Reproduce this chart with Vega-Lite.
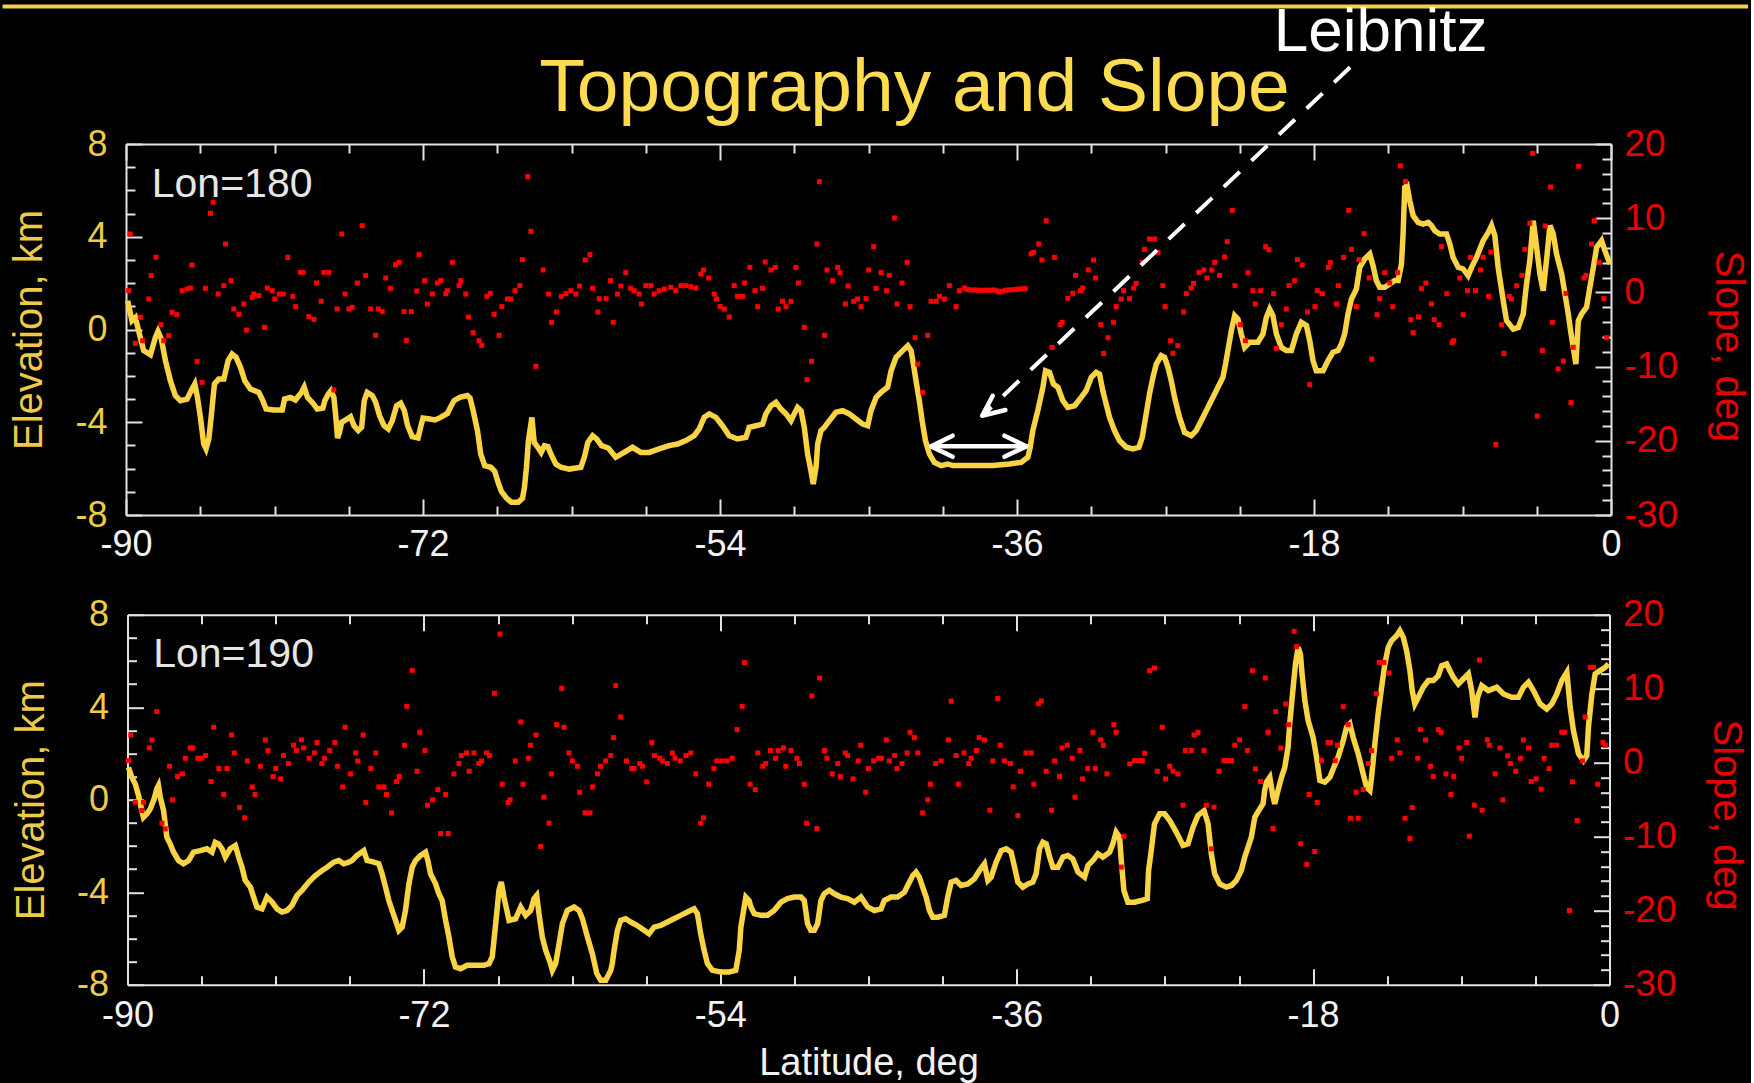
{
  "$schema": "https://vega.github.io/schema/vega-lite/v6.json",
  "background": "#000000",
  "padding": {"left": 0, "top": 0, "right": 0, "bottom": 0},
  "spacing": 99.7,
  "bounds": "flush",
  "center": true,
  "datasets": {
    "top_elev": [
      {"lat":-89.90,"elev":1.24},{"lat":-89.64,"elev":0.38},{"lat":-89.43,"elev":0.52},{"lat":-89.19,"elev":-0.19},{"lat":-88.93,"elev":-0.91},{"lat":-88.52,"elev":-1.09},{"lat":-88.22,"elev":-0.34},{"lat":-88.06,"elev":-0.08},{"lat":-87.86,"elev":-0.41},{"lat":-87.61,"elev":-1.34},{"lat":-87.31,"elev":-2.21},{"lat":-87.01,"elev":-2.85},{"lat":-86.70,"elev":-3.07},{"lat":-86.30,"elev":-3.00},{"lat":-86.00,"elev":-2.57},{"lat":-85.83,"elev":-2.35},{"lat":-85.67,"elev":-2.93},{"lat":-85.49,"elev":-3.79},{"lat":-85.29,"elev":-4.94},{"lat":-85.15,"elev":-5.15},{"lat":-84.98,"elev":-4.72},{"lat":-84.82,"elev":-3.64},{"lat":-84.64,"elev":-2.35},{"lat":-84.38,"elev":-2.14},{"lat":-84.07,"elev":-2.14},{"lat":-83.81,"elev":-1.34},{"lat":-83.57,"elev":-1.06},{"lat":-83.33,"elev":-1.20},{"lat":-83.06,"elev":-1.63},{"lat":-82.80,"elev":-2.21},{"lat":-82.46,"elev":-2.57},{"lat":-81.95,"elev":-2.71},{"lat":-81.71,"elev":-3.07},{"lat":-81.51,"elev":-3.43},{"lat":-81.04,"elev":-3.47},{"lat":-80.53,"elev":-3.47},{"lat":-80.39,"elev":-3.00},{"lat":-80.03,"elev":-2.93},{"lat":-79.73,"elev":-3.04},{"lat":-79.36,"elev":-2.71},{"lat":-79.20,"elev":-2.49},{"lat":-79.00,"elev":-2.93},{"lat":-78.67,"elev":-3.18},{"lat":-78.41,"elev":-3.43},{"lat":-78.07,"elev":-3.39},{"lat":-77.95,"elev":-3.07},{"lat":-77.74,"elev":-2.78},{"lat":-77.58,"elev":-2.64},{"lat":-77.40,"elev":-2.93},{"lat":-77.28,"elev":-3.79},{"lat":-77.18,"elev":-4.68},{"lat":-77.06,"elev":-4.44},{"lat":-76.93,"elev":-4.00},{"lat":-76.59,"elev":-3.86},{"lat":-76.39,"elev":-3.76},{"lat":-76.18,"elev":-4.15},{"lat":-75.92,"elev":-4.36},{"lat":-75.72,"elev":-4.22},{"lat":-75.56,"elev":-3.07},{"lat":-75.38,"elev":-2.71},{"lat":-75.07,"elev":-2.85},{"lat":-74.87,"elev":-3.14},{"lat":-74.63,"elev":-3.72},{"lat":-74.36,"elev":-4.15},{"lat":-74.10,"elev":-4.29},{"lat":-73.86,"elev":-3.93},{"lat":-73.60,"elev":-3.29},{"lat":-73.35,"elev":-3.18},{"lat":-73.13,"elev":-3.50},{"lat":-72.93,"elev":-4.15},{"lat":-72.65,"elev":-4.62},{"lat":-72.30,"elev":-4.68},{"lat":-72.12,"elev":-4.15},{"lat":-72.00,"elev":-3.82},{"lat":-71.59,"elev":-3.86},{"lat":-71.27,"elev":-3.90},{"lat":-70.93,"elev":-3.79},{"lat":-70.52,"elev":-3.62},{"lat":-70.32,"elev":-3.33},{"lat":-70.12,"elev":-3.07},{"lat":-69.77,"elev":-2.93},{"lat":-69.31,"elev":-2.85},{"lat":-69.15,"elev":-2.95},{"lat":-68.96,"elev":-3.50},{"lat":-68.70,"elev":-4.36},{"lat":-68.50,"elev":-5.37},{"lat":-68.26,"elev":-5.87},{"lat":-67.89,"elev":-5.94},{"lat":-67.65,"elev":-6.12},{"lat":-67.45,"elev":-6.59},{"lat":-67.25,"elev":-6.98},{"lat":-66.94,"elev":-7.27},{"lat":-66.64,"elev":-7.45},{"lat":-66.23,"elev":-7.45},{"lat":-65.97,"elev":-7.28},{"lat":-65.85,"elev":-6.81},{"lat":-65.73,"elev":-5.94},{"lat":-65.61,"elev":-4.79},{"lat":-65.40,"elev":-3.79},{"lat":-65.26,"elev":-4.87},{"lat":-65.04,"elev":-5.08},{"lat":-64.84,"elev":-5.30},{"lat":-64.64,"elev":-5.01},{"lat":-64.43,"elev":-5.05},{"lat":-64.23,"elev":-5.40},{"lat":-63.95,"elev":-5.80},{"lat":-63.64,"elev":-5.94},{"lat":-63.14,"elev":-6.02},{"lat":-62.43,"elev":-5.94},{"lat":-62.21,"elev":-5.48},{"lat":-62.01,"elev":-4.87},{"lat":-61.72,"elev":-4.58},{"lat":-61.48,"elev":-4.72},{"lat":-61.18,"elev":-5.01},{"lat":-60.77,"elev":-5.11},
      {"lat":-60.32,"elev":-5.51},{"lat":-59.81,"elev":-5.30},{"lat":-59.30,"elev":-5.08},{"lat":-58.80,"elev":-5.30},{"lat":-58.29,"elev":-5.30},{"lat":-57.69,"elev":-5.15},{"lat":-57.08,"elev":-5.01},{"lat":-56.57,"elev":-4.94},{"lat":-56.07,"elev":-4.79},{"lat":-55.56,"elev":-4.58},{"lat":-55.26,"elev":-4.29},{"lat":-54.96,"elev":-3.79},{"lat":-54.65,"elev":-3.64},{"lat":-54.25,"elev":-3.79},{"lat":-53.85,"elev":-4.15},{"lat":-53.44,"elev":-4.58},{"lat":-52.94,"elev":-4.72},{"lat":-52.43,"elev":-4.65},{"lat":-52.23,"elev":-4.22},{"lat":-51.82,"elev":-4.15},{"lat":-51.42,"elev":-4.08},{"lat":-51.22,"elev":-3.64},{"lat":-50.91,"elev":-3.29},{"lat":-50.61,"elev":-3.14},{"lat":-50.31,"elev":-3.43},{"lat":-50.00,"elev":-3.64},{"lat":-49.70,"elev":-3.93},{"lat":-49.50,"elev":-3.64},{"lat":-49.30,"elev":-3.36},{"lat":-49.09,"elev":-3.50},{"lat":-48.89,"elev":-4.22},{"lat":-48.69,"elev":-5.37},{"lat":-48.49,"elev":-6.09},{"lat":-48.35,"elev":-6.66},{"lat":-48.18,"elev":-5.94},{"lat":-48.08,"elev":-4.94},{"lat":-47.88,"elev":-4.36},{"lat":-47.68,"elev":-4.22},{"lat":-47.37,"elev":-3.93},{"lat":-46.97,"elev":-3.57},{"lat":-46.57,"elev":-3.50},{"lat":-46.16,"elev":-3.64},{"lat":-45.76,"elev":-3.86},{"lat":-45.35,"elev":-4.08},{"lat":-45.05,"elev":-4.15},{"lat":-44.85,"elev":-3.50},{"lat":-44.54,"elev":-2.93},{"lat":-44.24,"elev":-2.71},{"lat":-43.84,"elev":-2.49},{"lat":-43.63,"elev":-1.78},{"lat":-43.33,"elev":-1.20},{"lat":-42.93,"elev":-0.91},{"lat":-42.62,"elev":-0.70},{"lat":-42.42,"elev":-0.91},{"lat":-42.28,"elev":-1.49},{"lat":-42.12,"elev":-2.21},{"lat":-41.92,"elev":-3.07},{"lat":-41.75,"elev":-3.93},{"lat":-41.55,"elev":-4.79},{"lat":-41.31,"elev":-5.37},{"lat":-41.01,"elev":-5.73},{"lat":-40.60,"elev":-5.87},{"lat":-40.20,"elev":-5.80},{"lat":-39.89,"elev":-5.87},{"lat":-39.59,"elev":-5.87},{"lat":-38.48,"elev":-5.87},{"lat":-37.47,"elev":-5.87},{"lat":-36.46,"elev":-5.80},{"lat":-35.75,"elev":-5.73},{"lat":-35.34,"elev":-5.51},{"lat":-35.20,"elev":-5.08},{"lat":-35.04,"elev":-4.36},{"lat":-34.74,"elev":-3.50},{"lat":-34.43,"elev":-2.49},{"lat":-34.27,"elev":-1.78},{"lat":-34.03,"elev":-1.85},{"lat":-33.79,"elev":-2.35},{"lat":-33.52,"elev":-2.49},{"lat":-33.22,"elev":-3.07},{"lat":-32.92,"elev":-3.36},{"lat":-32.51,"elev":-3.29},{"lat":-32.11,"elev":-2.93},{"lat":-31.81,"elev":-2.64},{"lat":-31.50,"elev":-2.06},{"lat":-31.20,"elev":-1.85},
      {"lat":-31.00,"elev":-1.92},{"lat":-30.80,"elev":-2.64},{"lat":-30.60,"elev":-3.21},{"lat":-30.39,"elev":-3.79},{"lat":-30.09,"elev":-4.36},{"lat":-29.79,"elev":-4.79},{"lat":-29.38,"elev":-5.08},{"lat":-28.98,"elev":-5.15},{"lat":-28.61,"elev":-5.08},{"lat":-28.41,"elev":-4.65},{"lat":-28.17,"elev":-3.64},{"lat":-27.97,"elev":-2.78},{"lat":-27.76,"elev":-2.06},{"lat":-27.56,"elev":-1.49},{"lat":-27.26,"elev":-1.13},{"lat":-27.06,"elev":-1.20},{"lat":-26.85,"elev":-1.63},{"lat":-26.65,"elev":-2.21},{"lat":-26.45,"elev":-2.93},{"lat":-26.15,"elev":-3.79},{"lat":-25.84,"elev":-4.44},{"lat":-25.44,"elev":-4.58},{"lat":-25.14,"elev":-4.36},{"lat":-24.83,"elev":-3.93},{"lat":-24.53,"elev":-3.50},{"lat":-24.13,"elev":-2.93},{"lat":-23.82,"elev":-2.49},{"lat":-23.52,"elev":-2.06},{"lat":-23.36,"elev":-1.49},{"lat":-23.22,"elev":-0.91},{"lat":-23.01,"elev":-0.05},{"lat":-22.81,"elev":0.60},{"lat":-22.61,"elev":0.45},{"lat":-22.41,"elev":-0.19},{"lat":-22.20,"elev":-0.77},{"lat":-21.90,"elev":-0.55},{"lat":-21.40,"elev":-0.55},{"lat":-21.09,"elev":-0.19},{"lat":-20.89,"elev":0.52},{"lat":-20.69,"elev":0.88},{"lat":-20.49,"elev":0.60},{"lat":-20.28,"elev":-0.19},{"lat":-19.98,"elev":-0.77},{"lat":-19.68,"elev":-0.91},{"lat":-19.37,"elev":-0.91},{"lat":-19.07,"elev":-0.19},{"lat":-18.77,"elev":0.31},{"lat":-18.46,"elev":0.17},{"lat":-18.26,"elev":-0.48},{"lat":-18.06,"elev":-1.34},{"lat":-17.86,"elev":-1.78},{"lat":-17.45,"elev":-1.78},{"lat":-17.15,"elev":-1.34},{"lat":-16.85,"elev":-0.98},{"lat":-16.54,"elev":-0.91},{"lat":-16.34,"elev":-0.63},{"lat":-16.14,"elev":-0.19},{"lat":-15.94,"elev":0.67},{"lat":-15.73,"elev":1.32},{"lat":-15.53,"elev":1.60},{"lat":-15.43,"elev":1.75},{"lat":-15.23,"elev":2.68},{"lat":-14.93,"elev":3.04},{"lat":-14.62,"elev":3.26},{"lat":-14.42,"elev":2.75},{"lat":-14.22,"elev":2.11},{"lat":-14.02,"elev":1.82},{"lat":-13.71,"elev":1.82},{"lat":-13.41,"elev":1.96},{"lat":-13.11,"elev":2.11},{"lat":-12.90,"elev":2.11},{"lat":-12.70,"elev":2.82},{"lat":-12.60,"elev":4.12},{"lat":-12.50,"elev":6.13},{"lat":-12.36,"elev":6.20},{"lat":-12.20,"elev":5.56},{"lat":-11.99,"elev":4.91},{"lat":-11.69,"elev":4.62},{"lat":-11.39,"elev":4.55},{"lat":-11.08,"elev":4.62},{"lat":-10.88,"elev":4.48},{"lat":-10.68,"elev":4.26},{"lat":-10.38,"elev":4.12},{"lat":-9.97,"elev":4.12},{"lat":-9.77,"elev":3.69},{"lat":-9.57,"elev":3.11},{"lat":-9.26,"elev":2.68},{"lat":-8.96,"elev":2.61},{"lat":-8.66,"elev":2.32},{"lat":-8.45,"elev":2.68},{"lat":-8.15,"elev":3.11},{"lat":-7.75,"elev":3.83},{"lat":-7.44,"elev":4.19},{"lat":-7.24,"elev":4.48},{"lat":-7.04,"elev":4.05},{"lat":-6.84,"elev":2.68},{"lat":-6.53,"elev":1.24},{"lat":-6.33,"elev":0.38},{"lat":-5.93,"elev":0.02},{"lat":-5.62,"elev":0.09},{"lat":-5.32,"elev":0.67},{"lat":-5.12,"elev":1.96},{"lat":-4.92,"elev":2.97},{"lat":-4.71,"elev":4.69},{"lat":-4.51,"elev":3.54},{"lat":-4.31,"elev":2.39},{"lat":-4.11,"elev":1.67},{"lat":-3.91,"elev":2.97},{"lat":-3.70,"elev":4.48},{"lat":-3.50,"elev":4.12},{"lat":-3.30,"elev":3.26},{"lat":-2.99,"elev":2.39},{"lat":-2.79,"elev":1.53},{"lat":-2.59,"elev":0.67},{"lat":-2.45,"elev":-0.05},{"lat":-2.29,"elev":-0.77},{"lat":-2.13,"elev":-1.49},{"lat":-1.98,"elev":0.38},{"lat":-1.78,"elev":0.67},{"lat":-1.48,"elev":0.96},{"lat":-1.28,"elev":1.82},{"lat":-1.07,"elev":2.68},{"lat":-0.87,"elev":3.54},{"lat":-0.57,"elev":3.83},{"lat":-0.37,"elev":3.40},{"lat":-0.06,"elev":2.82}
    ],
    "top_slope": [
      {"lat":-89.84,"slope":0.23},{"lat":-89.74,"slope":7.87},{"lat":-89.43,"slope":-6.86},{"lat":-89.13,"slope":-3.36},{"lat":-88.99,"slope":-6.51},{"lat":-88.62,"slope":-0.89},{"lat":-88.48,"slope":2.26},{"lat":-88.18,"slope":4.73},{"lat":-87.88,"slope":-4.35},{"lat":-87.71,"slope":-6.51},{"lat":-87.41,"slope":-5.83},{"lat":-87.21,"slope":-2.69},{"lat":-86.91,"slope":-3.00},{"lat":-86.60,"slope":0.23},{"lat":-86.30,"slope":0.46},{"lat":-86.10,"slope":0.59},{"lat":-86.00,"slope":3.69},{"lat":-85.69,"slope":-9.29},{"lat":-85.39,"slope":-12.12},{"lat":-85.19,"slope":0.55},{"lat":-84.88,"slope":10.66},{"lat":-84.72,"slope":12.14},{"lat":-84.42,"slope":-0.22},{"lat":-84.07,"slope":0.91},{"lat":-83.97,"slope":6.52},{"lat":-83.63,"slope":1.58},{"lat":-83.47,"slope":-2.24},{"lat":-83.16,"slope":-2.96},{"lat":-82.86,"slope":-1.56},{"lat":-82.70,"slope":-5.07},{"lat":-82.35,"slope":-0.66},{"lat":-82.25,"slope":-0.22},{"lat":-81.95,"slope":-0.44},{"lat":-81.61,"slope":-4.71},{"lat":-81.44,"slope":0.59},{"lat":-81.14,"slope":0.23},{"lat":-80.98,"slope":-0.89},{"lat":-80.70,"slope":-0.22},{"lat":-80.47,"slope":-0.22},{"lat":-80.19,"slope":4.73},{"lat":-79.89,"slope":-0.53},{"lat":-79.72,"slope":-1.92},{"lat":-79.42,"slope":2.70},{"lat":-79.26,"slope":2.70},{"lat":-78.92,"slope":-3.27},{"lat":-78.61,"slope":-3.63},{"lat":-78.45,"slope":1.27},{"lat":-78.17,"slope":-1.20},{"lat":-78.01,"slope":2.70},{"lat":-77.70,"slope":2.70},{"lat":-77.40,"slope":-13.15},{"lat":-77.20,"slope":-2.24},{"lat":-76.93,"slope":7.87},{"lat":-76.73,"slope":-0.22},{"lat":-76.49,"slope":-2.24},{"lat":-76.29,"slope":-2.01},{"lat":-75.98,"slope":1.27},{"lat":-75.68,"slope":8.99},{"lat":-75.48,"slope":2.26},{"lat":-75.17,"slope":-2.24},{"lat":-74.87,"slope":-5.79},{"lat":-74.71,"slope":-2.24},{"lat":-74.47,"slope":-2.60},{"lat":-74.26,"slope":1.94},{"lat":-73.96,"slope":0.55},{"lat":-73.66,"slope":3.74},{"lat":-73.45,"slope":4.05},{"lat":-73.15,"slope":-2.60},{"lat":-73.01,"slope":-6.46},{"lat":-72.71,"slope":-2.60},{"lat":-72.38,"slope":0.19},{"lat":-72.24,"slope":5.09},{"lat":-71.90,"slope":1.58},{"lat":-71.74,"slope":-1.56},{"lat":-71.43,"slope":-0.22},{"lat":-71.13,"slope":1.27},{"lat":-70.93,"slope":1.58},{"lat":-70.62,"slope":-0.17},{"lat":-70.52,"slope":0.23},{"lat":-70.22,"slope":4.05},{"lat":-69.81,"slope":0.91},{"lat":-69.71,"slope":1.58},{"lat":-69.41,"slope":-0.22},{"lat":-69.25,"slope":-3.32},{"lat":-68.96,"slope":-5.43},{"lat":-68.60,"slope":-6.51},{"lat":-68.44,"slope":-7.13},{"lat":-68.13,"slope":-0.53},{"lat":-67.93,"slope":-0.13},{"lat":-67.69,"slope":-2.96},{"lat":-67.39,"slope":-5.79},{"lat":-67.22,"slope":-1.92},{"lat":-66.88,"slope":-0.89},{"lat":-66.68,"slope":-0.89},{"lat":-66.42,"slope":0.23},{"lat":-66.13,"slope":0.91},{"lat":-65.97,"slope":4.41},{"lat":-65.65,"slope":15.60},{"lat":-65.46,"slope":8.23},{"lat":-65.16,"slope":-9.96},{"lat":-64.72,"slope":3.02},{"lat":-64.39,"slope":-0.22},{"lat":-64.21,"slope":-4.03},{"lat":-63.91,"slope":-2.64},{"lat":-63.62,"slope":-0.53},{"lat":-63.34,"slope":-0.17},{"lat":-63.04,"slope":0.23},{"lat":-62.73,"slope":-0.22},{"lat":-62.51,"slope":0.86},{"lat":-62.17,"slope":4.37},{"lat":-61.88,"slope":5.09},{"lat":-61.72,"slope":0.55},{"lat":-61.40,"slope":-2.64},{"lat":-61.32,"slope":-0.84},{"lat":-60.91,"slope":-0.84},{"lat":-60.63,"slope":1.58},{"lat":-60.47,"slope":-4.03},{"lat":-60.21,"slope":-0.22},
      {"lat":-60.01,"slope":0.86},{"lat":-59.71,"slope":2.66},{"lat":-59.41,"slope":0.55},{"lat":-59.20,"slope":0.23},{"lat":-58.90,"slope":-0.22},{"lat":-58.76,"slope":-1.56},{"lat":-58.50,"slope":0.91},{"lat":-58.19,"slope":0.91},{"lat":-57.99,"slope":-0.22},{"lat":-57.69,"slope":0.23},{"lat":-57.38,"slope":0.46},{"lat":-56.98,"slope":0.68},{"lat":-56.68,"slope":0.23},{"lat":-56.37,"slope":0.91},{"lat":-56.07,"slope":0.91},{"lat":-55.77,"slope":0.77},{"lat":-55.46,"slope":0.59},{"lat":-55.16,"slope":2.48},{"lat":-55.00,"slope":3.02},{"lat":-54.69,"slope":1.94},{"lat":-54.35,"slope":-0.22},{"lat":-54.21,"slope":-0.89},{"lat":-53.99,"slope":-1.88},{"lat":-53.74,"slope":-2.24},{"lat":-53.44,"slope":-3.32},{"lat":-53.14,"slope":0.91},{"lat":-52.94,"slope":-0.53},{"lat":-52.63,"slope":-0.53},{"lat":-52.51,"slope":1.27},{"lat":-52.19,"slope":3.38},{"lat":-51.88,"slope":0.23},{"lat":-51.72,"slope":-1.92},{"lat":-51.42,"slope":0.55},{"lat":-51.26,"slope":4.10},{"lat":-50.91,"slope":3.02},{"lat":-50.65,"slope":3.38},{"lat":-50.47,"slope":-2.24},{"lat":-50.21,"slope":-1.20},{"lat":-50.00,"slope":-1.92},{"lat":-49.70,"slope":-1.20},{"lat":-49.40,"slope":3.38},{"lat":-49.24,"slope":1.27},{"lat":-48.89,"slope":-4.71},{"lat":-48.73,"slope":-11.76},{"lat":-48.45,"slope":-9.29},{"lat":-48.12,"slope":6.52},{"lat":-47.98,"slope":14.92},{"lat":-47.66,"slope":-5.79},{"lat":-47.52,"slope":3.02},{"lat":-47.17,"slope":1.58},{"lat":-46.87,"slope":3.38},{"lat":-46.73,"slope":2.66},{"lat":-46.40,"slope":-1.56},{"lat":-46.24,"slope":0.86},{"lat":-45.90,"slope":-1.20},{"lat":-45.66,"slope":-0.89},{"lat":-45.45,"slope":-1.92},{"lat":-45.15,"slope":-0.84},{"lat":-44.99,"slope":3.02},{"lat":-44.69,"slope":6.16},{"lat":-44.54,"slope":0.55},{"lat":-44.24,"slope":2.66},{"lat":-43.90,"slope":0.23},{"lat":-43.74,"slope":2.30},{"lat":-43.43,"slope":10.03},{"lat":-43.27,"slope":-1.56},{"lat":-42.97,"slope":1.27},{"lat":-42.66,"slope":4.05},{"lat":-42.48,"slope":-1.92},{"lat":-42.18,"slope":-6.10},{"lat":-42.02,"slope":-9.65},{"lat":-41.71,"slope":-13.47},{"lat":-41.41,"slope":-5.79},{"lat":-41.21,"slope":-1.20},{"lat":-40.90,"slope":-1.20},{"lat":-40.70,"slope":-0.53},{"lat":-40.40,"slope":-0.89},{"lat":-40.10,"slope":0.91},{"lat":-39.69,"slope":-1.92},{"lat":-39.49,"slope":0.23},{"lat":-39.19,"slope":0.59},{"lat":-39.00,"slope":0.40},{"lat":-38.80,"slope":0.32},{"lat":-38.60,"slope":0.32},{"lat":-38.40,"slope":0.30},{"lat":-38.20,"slope":0.28},{"lat":-38.00,"slope":0.28},{"lat":-37.80,"slope":0.30},{"lat":-37.60,"slope":0.30},{"lat":-37.40,"slope":0.32},{"lat":-37.20,"slope":0.20},{"lat":-37.06,"slope":0.05},{"lat":-36.90,"slope":0.15},{"lat":-36.70,"slope":0.28},{"lat":-36.50,"slope":0.32},{"lat":-36.30,"slope":0.35},{"lat":-36.10,"slope":0.40},{"lat":-35.90,"slope":0.45},{"lat":-35.70,"slope":0.48},{"lat":-35.50,"slope":0.50},{"lat":-35.14,"slope":5.18},{"lat":-35.00,"slope":5.40},{"lat":-34.68,"slope":6.52},{"lat":-34.49,"slope":4.37},{"lat":-34.23,"slope":9.67},{"lat":-33.87,"slope":-7.40},{"lat":-33.73,"slope":4.73},{"lat":-33.38,"slope":-4.35},{"lat":-33.26,"slope":-4.03},{"lat":-32.92,"slope":-0.80},{"lat":-32.62,"slope":-0.13},{"lat":-32.45,"slope":2.30},{"lat":-32.15,"slope":0.23},{"lat":-32.01,"slope":0.59},{"lat":-31.68,"slope":3.02},{"lat":-31.36,"slope":4.37},{"lat":-31.24,"slope":1.94},{"lat":-30.92,"slope":-4.35},{"lat":-30.75,"slope":-8.21},{"lat":-30.49,"slope":-6.10},
      {"lat":-30.15,"slope":-4.03},{"lat":-29.99,"slope":-1.92},{"lat":-29.69,"slope":-0.89},{"lat":-29.54,"slope":0.23},{"lat":-29.18,"slope":-0.84},{"lat":-28.92,"slope":0.59},{"lat":-28.78,"slope":1.22},{"lat":-28.41,"slope":4.05},{"lat":-28.27,"slope":5.80},{"lat":-27.97,"slope":7.20},{"lat":-27.66,"slope":7.20},{"lat":-27.46,"slope":5.40},{"lat":-27.16,"slope":0.91},{"lat":-27.02,"slope":-1.92},{"lat":-26.69,"slope":-6.51},{"lat":-26.55,"slope":-8.21},{"lat":-26.25,"slope":-7.18},{"lat":-25.90,"slope":-2.64},{"lat":-25.74,"slope":-0.17},{"lat":-25.44,"slope":0.59},{"lat":-25.30,"slope":1.22},{"lat":-24.97,"slope":2.70},{"lat":-24.67,"slope":3.02},{"lat":-24.49,"slope":1.94},{"lat":-24.19,"slope":3.02},{"lat":-24.02,"slope":4.05},{"lat":-23.72,"slope":2.30},{"lat":-23.42,"slope":4.77},{"lat":-23.26,"slope":6.84},{"lat":-22.95,"slope":11.06},{"lat":-22.79,"slope":0.91},{"lat":-22.47,"slope":-4.35},{"lat":-22.16,"slope":-6.51},{"lat":-22.00,"slope":2.66},{"lat":-21.70,"slope":0.23},{"lat":-21.56,"slope":-1.56},{"lat":-21.23,"slope":0.23},{"lat":-20.93,"slope":6.16},{"lat":-20.73,"slope":5.76},{"lat":-20.45,"slope":-0.17},{"lat":-20.28,"slope":-7.54},{"lat":-19.98,"slope":-4.35},{"lat":-19.68,"slope":-2.24},{"lat":-19.51,"slope":0.91},{"lat":-19.17,"slope":1.58},{"lat":-19.01,"slope":4.41},{"lat":-18.71,"slope":3.69},{"lat":-18.40,"slope":-2.64},{"lat":-18.26,"slope":-12.43},{"lat":-17.94,"slope":-1.92},{"lat":-17.80,"slope":0.23},{"lat":-17.49,"slope":-0.17},{"lat":-17.13,"slope":3.38},{"lat":-17.01,"slope":4.05},{"lat":-16.64,"slope":-1.56},{"lat":-16.52,"slope":0.91},{"lat":-16.20,"slope":4.73},{"lat":-15.90,"slope":11.06},{"lat":-15.73,"slope":5.80},{"lat":-15.43,"slope":-1.92},{"lat":-15.27,"slope":4.41},{"lat":-14.97,"slope":7.92},{"lat":-14.66,"slope":1.94},{"lat":-14.50,"slope":-8.98},{"lat":-14.18,"slope":-3.00},{"lat":-14.02,"slope":-0.84},{"lat":-13.71,"slope":2.66},{"lat":-13.41,"slope":1.27},{"lat":-13.23,"slope":-1.92},{"lat":-12.94,"slope":2.66},{"lat":-12.76,"slope":17.04},{"lat":-12.46,"slope":14.97},{"lat":-12.13,"slope":-3.67},{"lat":-11.99,"slope":-5.43},{"lat":-11.67,"slope":-3.32},{"lat":-11.49,"slope":0.50},{"lat":-11.22,"slope":1.27},{"lat":-10.88,"slope":-1.56},{"lat":-10.72,"slope":-3.67},{"lat":-10.42,"slope":-4.35},{"lat":-10.27,"slope":6.16},{"lat":-9.95,"slope":-0.17},{"lat":-9.63,"slope":-6.77},{"lat":-9.53,"slope":-6.51},{"lat":-9.16,"slope":1.94},{"lat":-8.96,"slope":-3.00},{"lat":-8.70,"slope":0.23},{"lat":-8.52,"slope":4.73},{"lat":-8.21,"slope":0.23},{"lat":-7.91,"slope":3.02},{"lat":-7.75,"slope":4.73},{"lat":-7.42,"slope":-0.53},{"lat":-7.28,"slope":5.44},{"lat":-6.98,"slope":-20.48},{"lat":-6.63,"slope":-4.35},{"lat":-6.49,"slope":-8.21},{"lat":-6.17,"slope":-0.53},{"lat":-6.03,"slope":-0.89},{"lat":-5.72,"slope":0.91},{"lat":-5.40,"slope":2.30},{"lat":-5.22,"slope":5.80},{"lat":-4.92,"slope":9.31},{"lat":-4.75,"slope":18.74},{"lat":-4.47,"slope":-16.66},{"lat":-4.15,"slope":-7.85},{"lat":-3.99,"slope":8.95},{"lat":-3.66,"slope":14.20},{"lat":-3.54,"slope":-4.03},{"lat":-3.20,"slope":-10.32},{"lat":-2.89,"slope":-9.25},{"lat":-2.73,"slope":-0.13},{"lat":-2.43,"slope":-14.86},{"lat":-2.29,"slope":-7.40},{"lat":-1.96,"slope":16.99},{"lat":-1.64,"slope":1.94},{"lat":-1.52,"slope":2.30},{"lat":-1.18,"slope":6.52},{"lat":-1.01,"slope":9.67},{"lat":-0.71,"slope":4.05},{"lat":-0.43,"slope":-0.84},{"lat":-0.26,"slope":-6.10}
    ],
    "bot_elev": [
      {"lat":-89.94,"elev":1.40},{"lat":-89.74,"elev":0.97},{"lat":-89.53,"elev":0.68},{"lat":-89.33,"elev":0.18},{"lat":-89.13,"elev":-0.47},{"lat":-89.03,"elev":-0.76},{"lat":-88.82,"elev":-0.61},{"lat":-88.62,"elev":-0.40},{"lat":-88.38,"elev":0.04},{"lat":-88.22,"elev":0.47},{"lat":-88.12,"elev":0.61},{"lat":-88.01,"elev":0.11},{"lat":-87.81,"elev":-0.47},{"lat":-87.71,"elev":-1.04},{"lat":-87.61,"elev":-1.62},{"lat":-87.41,"elev":-1.91},{"lat":-87.20,"elev":-2.27},{"lat":-86.90,"elev":-2.63},{"lat":-86.60,"elev":-2.77},{"lat":-86.29,"elev":-2.63},{"lat":-85.99,"elev":-2.27},{"lat":-85.58,"elev":-2.20},{"lat":-85.18,"elev":-2.12},{"lat":-84.87,"elev":-2.27},{"lat":-84.67,"elev":-1.84},{"lat":-84.47,"elev":-1.91},{"lat":-84.26,"elev":-2.12},{"lat":-84.06,"elev":-2.48},{"lat":-83.76,"elev":-2.12},{"lat":-83.45,"elev":-1.98},{"lat":-83.25,"elev":-2.48},{"lat":-83.05,"elev":-2.92},{"lat":-82.85,"elev":-3.49},{"lat":-82.54,"elev":-3.78},{"lat":-82.34,"elev":-4.21},{"lat":-82.14,"elev":-4.64},{"lat":-81.83,"elev":-4.72},{"lat":-81.53,"elev":-4.21},{"lat":-81.22,"elev":-4.43},{"lat":-80.92,"elev":-4.72},{"lat":-80.62,"elev":-4.86},{"lat":-80.31,"elev":-4.79},{"lat":-80.01,"elev":-4.57},{"lat":-79.70,"elev":-4.14},{"lat":-79.40,"elev":-3.92},{"lat":-78.99,"elev":-3.56},{"lat":-78.59,"elev":-3.28},{"lat":-78.18,"elev":-3.06},{"lat":-77.88,"elev":-2.92},{"lat":-77.47,"elev":-2.70},{"lat":-77.17,"elev":-2.63},{"lat":-76.87,"elev":-2.77},{"lat":-76.56,"elev":-2.70},{"lat":-76.36,"elev":-2.63},{"lat":-76.06,"elev":-2.41},{"lat":-75.65,"elev":-2.20},{"lat":-75.45,"elev":-2.63},{"lat":-75.04,"elev":-2.70},{"lat":-74.74,"elev":-2.77},{"lat":-74.54,"elev":-3.20},{"lat":-74.33,"elev":-3.78},{"lat":-74.13,"elev":-4.36},{"lat":-73.93,"elev":-4.79},{"lat":-73.72,"elev":-5.22},{"lat":-73.52,"elev":-5.65},{"lat":-73.32,"elev":-5.51},{"lat":-73.12,"elev":-4.79},{"lat":-72.91,"elev":-3.64},{"lat":-72.71,"elev":-2.92},{"lat":-72.51,"elev":-2.63},{"lat":-72.20,"elev":-2.41},{"lat":-71.90,"elev":-2.27},{"lat":-71.76,"elev":-2.63},{"lat":-71.60,"elev":-3.20},{"lat":-71.29,"elev":-3.64},{"lat":-71.09,"elev":-4.07},{"lat":-70.89,"elev":-4.36},{"lat":-70.68,"elev":-5.22},{"lat":-70.48,"elev":-5.94},{"lat":-70.28,"elev":-6.80},{"lat":-70.08,"elev":-7.24},{"lat":-69.77,"elev":-7.31},{"lat":-69.37,"elev":-7.16},{"lat":-68.86,"elev":-7.16},{"lat":-68.35,"elev":-7.16},{"lat":-68.05,"elev":-7.09},{"lat":-67.85,"elev":-6.80},{"lat":-67.64,"elev":-5.36},{"lat":-67.44,"elev":-3.92},{"lat":-67.30,"elev":-3.56},{"lat":-67.14,"elev":-4.21},{"lat":-66.83,"elev":-5.22},{"lat":-66.43,"elev":-5.15},{"lat":-66.12,"elev":-4.64},{"lat":-65.82,"elev":-5.00},{"lat":-65.52,"elev":-4.79},{"lat":-65.31,"elev":-4.28},{"lat":-65.15,"elev":-4.14},{"lat":-65.01,"elev":-4.93},{"lat":-64.81,"elev":-5.94},{"lat":-64.60,"elev":-6.52},{"lat":-64.34,"elev":-7.02},{"lat":-64.20,"elev":-7.38},{"lat":-64.00,"elev":-7.09},{"lat":-63.79,"elev":-6.23},{"lat":-63.59,"elev":-5.36},{"lat":-63.29,"elev":-4.79},{"lat":-62.88,"elev":-4.64},{"lat":-62.58,"elev":-4.79},{"lat":-62.37,"elev":-5.15},{"lat":-62.07,"elev":-5.94},{"lat":-61.77,"elev":-6.66},{"lat":-61.50,"elev":-7.52},{"lat":-61.26,"elev":-7.81},{"lat":-60.96,"elev":-7.81},{"lat":-60.65,"elev":-7.38},
      {"lat":-60.56,"elev":-7.09},{"lat":-60.45,"elev":-6.52},{"lat":-60.25,"elev":-5.65},{"lat":-60.05,"elev":-5.22},{"lat":-59.75,"elev":-5.15},{"lat":-59.44,"elev":-5.29},{"lat":-59.04,"elev":-5.44},{"lat":-58.63,"elev":-5.65},{"lat":-58.33,"elev":-5.80},{"lat":-58.02,"elev":-5.51},{"lat":-57.62,"elev":-5.44},{"lat":-57.21,"elev":-5.29},{"lat":-56.81,"elev":-5.15},{"lat":-56.40,"elev":-5.00},{"lat":-56.00,"elev":-4.86},{"lat":-55.59,"elev":-4.72},{"lat":-55.39,"elev":-4.93},{"lat":-55.19,"elev":-5.80},{"lat":-54.98,"elev":-6.52},{"lat":-54.78,"elev":-7.09},{"lat":-54.48,"elev":-7.38},{"lat":-53.97,"elev":-7.45},{"lat":-53.46,"elev":-7.45},{"lat":-53.06,"elev":-7.38},{"lat":-52.85,"elev":-6.52},{"lat":-52.75,"elev":-5.51},{"lat":-52.55,"elev":-4.64},{"lat":-52.45,"elev":-4.21},{"lat":-52.25,"elev":-4.36},{"lat":-52.14,"elev":-4.64},{"lat":-51.94,"elev":-4.93},{"lat":-51.54,"elev":-5.00},{"lat":-51.13,"elev":-5.00},{"lat":-50.73,"elev":-4.79},{"lat":-50.32,"elev":-4.43},{"lat":-49.92,"elev":-4.28},{"lat":-49.51,"elev":-4.21},{"lat":-49.10,"elev":-4.21},{"lat":-48.90,"elev":-4.36},{"lat":-48.70,"elev":-5.36},{"lat":-48.50,"elev":-5.65},{"lat":-48.29,"elev":-5.65},{"lat":-48.09,"elev":-5.36},{"lat":-47.89,"elev":-4.36},{"lat":-47.69,"elev":-4.07},{"lat":-47.38,"elev":-3.92},{"lat":-47.08,"elev":-4.07},{"lat":-46.67,"elev":-4.21},{"lat":-46.27,"elev":-4.28},{"lat":-45.86,"elev":-4.43},{"lat":-45.46,"elev":-4.21},{"lat":-45.25,"elev":-4.43},{"lat":-45.05,"elev":-4.64},{"lat":-44.65,"elev":-4.79},{"lat":-44.24,"elev":-4.72},{"lat":-44.04,"elev":-4.36},{"lat":-43.63,"elev":-4.21},{"lat":-43.23,"elev":-4.21},{"lat":-42.82,"elev":-4.00},{"lat":-42.62,"elev":-3.71},{"lat":-42.31,"elev":-3.28},{"lat":-42.11,"elev":-3.13},{"lat":-41.91,"elev":-3.35},{"lat":-41.71,"elev":-3.78},{"lat":-41.50,"elev":-4.21},{"lat":-41.30,"elev":-4.79},{"lat":-41.10,"elev":-5.08},{"lat":-40.79,"elev":-5.08},{"lat":-40.39,"elev":-5.00},{"lat":-40.19,"elev":-4.21},{"lat":-39.98,"elev":-3.56},{"lat":-39.68,"elev":-3.49},{"lat":-39.38,"elev":-3.71},{"lat":-38.97,"elev":-3.64},{"lat":-38.57,"elev":-3.42},{"lat":-38.26,"elev":-3.06},{"lat":-37.96,"elev":-2.77},{"lat":-37.75,"elev":-3.49},{"lat":-37.55,"elev":-3.35},{"lat":-37.25,"elev":-2.70},{"lat":-36.94,"elev":-2.20},{"lat":-36.64,"elev":-2.12},{"lat":-36.34,"elev":-2.27},{"lat":-36.13,"elev":-2.92},{"lat":-35.93,"elev":-3.56},{"lat":-35.63,"elev":-3.78},{"lat":-35.32,"elev":-3.64},{"lat":-35.02,"elev":-3.56},{"lat":-34.82,"elev":-3.20},{"lat":-34.61,"elev":-2.12},{"lat":-34.41,"elev":-1.84},{"lat":-34.21,"elev":-1.91},{"lat":-34.00,"elev":-2.48},{"lat":-33.80,"elev":-2.92},{"lat":-33.50,"elev":-2.92},{"lat":-33.19,"elev":-2.48},{"lat":-32.89,"elev":-2.41},{"lat":-32.59,"elev":-2.56},{"lat":-32.28,"elev":-3.13},{"lat":-31.88,"elev":-3.35},{"lat":-31.67,"elev":-2.84},{"lat":-31.37,"elev":-2.63},
      {"lat":-31.07,"elev":-2.34},{"lat":-30.77,"elev":-2.48},{"lat":-30.36,"elev":-2.27},{"lat":-30.16,"elev":-1.91},{"lat":-29.96,"elev":-1.40},{"lat":-29.75,"elev":-1.62},{"lat":-29.65,"elev":-2.63},{"lat":-29.49,"elev":-3.92},{"lat":-29.25,"elev":-4.43},{"lat":-28.84,"elev":-4.43},{"lat":-28.43,"elev":-4.36},{"lat":-28.07,"elev":-4.28},{"lat":-27.99,"elev":-3.06},{"lat":-27.83,"elev":-2.20},{"lat":-27.63,"elev":-1.04},{"lat":-27.32,"elev":-0.61},{"lat":-27.02,"elev":-0.61},{"lat":-26.71,"elev":-0.90},{"lat":-26.31,"elev":-1.40},{"lat":-25.90,"elev":-1.98},{"lat":-25.60,"elev":-1.91},{"lat":-25.29,"elev":-1.19},{"lat":-24.99,"elev":-0.68},{"lat":-24.62,"elev":-0.47},{"lat":-24.38,"elev":-1.04},{"lat":-24.18,"elev":-2.34},{"lat":-23.98,"elev":-3.20},{"lat":-23.67,"elev":-3.64},{"lat":-23.27,"elev":-3.78},{"lat":-22.96,"elev":-3.71},{"lat":-22.66,"elev":-3.49},{"lat":-22.36,"elev":-3.06},{"lat":-22.15,"elev":-2.48},{"lat":-21.95,"elev":-2.05},{"lat":-21.75,"elev":-1.62},{"lat":-21.54,"elev":-0.76},{"lat":-21.24,"elev":-0.40},{"lat":-21.04,"elev":-0.18},{"lat":-20.94,"elev":0.40},{"lat":-20.83,"elev":0.76},{"lat":-20.63,"elev":0.97},{"lat":-20.43,"elev":0.11},{"lat":-20.33,"elev":-0.18},{"lat":-20.13,"elev":0.40},{"lat":-19.92,"elev":0.97},{"lat":-19.72,"elev":1.40},{"lat":-19.52,"elev":2.27},{"lat":-19.42,"elev":3.28},{"lat":-19.21,"elev":4.86},{"lat":-19.07,"elev":5.87},{"lat":-18.91,"elev":6.59},{"lat":-18.77,"elev":6.30},{"lat":-18.67,"elev":5.44},{"lat":-18.50,"elev":4.28},{"lat":-18.30,"elev":3.42},{"lat":-18.00,"elev":2.70},{"lat":-17.79,"elev":1.84},{"lat":-17.59,"elev":0.83},{"lat":-17.29,"elev":0.76},{"lat":-16.98,"elev":0.97},{"lat":-16.78,"elev":1.33},{"lat":-16.48,"elev":1.84},{"lat":-16.17,"elev":2.56},{"lat":-15.97,"elev":3.13},{"lat":-15.77,"elev":3.28},{"lat":-15.57,"elev":2.70},{"lat":-15.26,"elev":1.98},{"lat":-14.96,"elev":1.12},{"lat":-14.75,"elev":0.54},{"lat":-14.55,"elev":0.40},{"lat":-14.45,"elev":0.97},{"lat":-14.25,"elev":2.41},{"lat":-14.05,"elev":3.71},{"lat":-13.84,"elev":4.86},{"lat":-13.64,"elev":5.87},{"lat":-13.44,"elev":6.59},{"lat":-13.23,"elev":6.88},{"lat":-12.93,"elev":7.09},{"lat":-12.73,"elev":7.31},{"lat":-12.52,"elev":7.02},{"lat":-12.32,"elev":6.44},{"lat":-12.12,"elev":5.58},{"lat":-11.98,"elev":4.72},{"lat":-11.82,"elev":4.14},{"lat":-11.61,"elev":4.43},{"lat":-11.31,"elev":4.86},{"lat":-11.00,"elev":5.15},{"lat":-10.70,"elev":5.15},{"lat":-10.40,"elev":5.36},{"lat":-10.19,"elev":5.80},{"lat":-9.89,"elev":5.87},{"lat":-9.69,"elev":5.58},{"lat":-9.48,"elev":5.29},{"lat":-9.18,"elev":5.00},{"lat":-8.88,"elev":5.22},{"lat":-8.57,"elev":5.44},{"lat":-8.37,"elev":4.72},{"lat":-8.17,"elev":3.56},{"lat":-8.01,"elev":4.43},{"lat":-7.76,"elev":4.93},{"lat":-7.36,"elev":4.72},{"lat":-6.85,"elev":4.86},{"lat":-6.44,"elev":4.57},{"lat":-5.94,"elev":4.43},{"lat":-5.53,"elev":4.43},{"lat":-5.23,"elev":4.86},{"lat":-4.92,"elev":5.08},{"lat":-4.62,"elev":4.72},{"lat":-4.21,"elev":4.14},{"lat":-3.81,"elev":3.92},{"lat":-3.50,"elev":4.14},{"lat":-3.20,"elev":4.57},{"lat":-2.90,"elev":5.15},{"lat":-2.59,"elev":5.51},{"lat":-2.39,"elev":4.00},{"lat":-2.19,"elev":2.99},{"lat":-1.88,"elev":1.98},{"lat":-1.58,"elev":1.69},{"lat":-1.38,"elev":1.91},{"lat":-1.28,"elev":3.13},{"lat":-1.07,"elev":4.57},{"lat":-0.87,"elev":5.44},{"lat":-0.57,"elev":5.58},{"lat":-0.26,"elev":5.72},{"lat":-0.06,"elev":5.87}
    ],
    "bot_slope": [
      {"lat":-89.94,"slope":0.29},{"lat":-89.80,"slope":3.75},{"lat":-89.53,"slope":-5.34},{"lat":-89.13,"slope":-6.46},{"lat":-89.03,"slope":-5.34},{"lat":-88.68,"slope":2.00},{"lat":-88.52,"slope":3.08},{"lat":-88.22,"slope":6.90},{"lat":-87.91,"slope":-8.17},{"lat":-87.71,"slope":-8.94},{"lat":-87.45,"slope":-0.48},{"lat":-87.26,"slope":-5.02},{"lat":-86.96,"slope":-1.87},{"lat":-86.66,"slope":-1.51},{"lat":-86.49,"slope":0.60},{"lat":-86.19,"slope":2.00},{"lat":-86.03,"slope":2.00},{"lat":-85.72,"slope":0.60},{"lat":-85.48,"slope":0.60},{"lat":-85.26,"slope":0.96},{"lat":-84.93,"slope":-2.55},{"lat":-84.77,"slope":4.79},{"lat":-84.45,"slope":-0.79},{"lat":-84.16,"slope":-4.30},{"lat":-83.96,"slope":-0.79},{"lat":-83.68,"slope":3.75},{"lat":-83.51,"slope":1.32},{"lat":-83.19,"slope":-6.06},{"lat":-82.89,"slope":-7.45},{"lat":-82.72,"slope":0.24},{"lat":-82.42,"slope":-3.27},{"lat":-82.26,"slope":-4.30},{"lat":-81.93,"slope":-0.48},{"lat":-81.63,"slope":3.08},{"lat":-81.47,"slope":1.64},{"lat":-81.16,"slope":-1.87},{"lat":-81.00,"slope":-0.79},{"lat":-80.70,"slope":-2.19},{"lat":-80.53,"slope":0.96},{"lat":-80.23,"slope":-0.12},{"lat":-79.91,"slope":2.36},{"lat":-79.74,"slope":1.64},{"lat":-79.44,"slope":3.08},{"lat":-79.30,"slope":2.00},{"lat":-78.97,"slope":0.60},{"lat":-78.65,"slope":1.32},{"lat":-78.49,"slope":2.72},{"lat":-78.20,"slope":-0.12},{"lat":-78.04,"slope":0.60},{"lat":-77.72,"slope":1.64},{"lat":-77.41,"slope":2.72},{"lat":-77.25,"slope":-0.48},{"lat":-76.93,"slope":-3.27},{"lat":-76.79,"slope":4.79},{"lat":-76.46,"slope":-1.51},{"lat":-76.14,"slope":1.32},{"lat":-76.02,"slope":0.24},{"lat":-75.69,"slope":3.75},{"lat":-75.53,"slope":-5.38},{"lat":-75.22,"slope":-0.79},{"lat":-74.92,"slope":1.32},{"lat":-74.74,"slope":-3.27},{"lat":-74.43,"slope":-3.27},{"lat":-74.27,"slope":-4.30},{"lat":-73.97,"slope":-6.78},{"lat":-73.66,"slope":-2.55},{"lat":-73.50,"slope":-1.87},{"lat":-73.18,"slope":2.36},{"lat":-73.04,"slope":7.62},{"lat":-72.71,"slope":12.48},{"lat":-72.41,"slope":-1.15},{"lat":-72.25,"slope":4.11},{"lat":-71.94,"slope":1.64},{"lat":-71.78,"slope":-5.74},{"lat":-71.47,"slope":-5.02},{"lat":-71.15,"slope":-3.63},{"lat":-70.99,"slope":-9.57},{"lat":-70.68,"slope":-4.30},{"lat":-70.52,"slope":-9.57},{"lat":-70.18,"slope":-1.51},{"lat":-69.87,"slope":-0.12},{"lat":-69.73,"slope":0.96},{"lat":-69.41,"slope":1.32},{"lat":-69.25,"slope":-1.15},{"lat":-68.96,"slope":1.32},{"lat":-68.66,"slope":-0.12},{"lat":-68.50,"slope":0.24},{"lat":-68.19,"slope":1.32},{"lat":-68.01,"slope":0.96},{"lat":-67.71,"slope":9.38},{"lat":-67.38,"slope":17.39},{"lat":-67.24,"slope":-2.91},{"lat":-66.89,"slope":-5.38},{"lat":-66.77,"slope":-5.02},{"lat":-66.45,"slope":0.24},{"lat":-66.12,"slope":5.51},{"lat":-65.98,"slope":-2.91},{"lat":-65.66,"slope":0.60},{"lat":-65.52,"slope":2.36},{"lat":-65.19,"slope":3.75},{"lat":-64.91,"slope":-11.32},{"lat":-64.71,"slope":-4.66},{"lat":-64.40,"slope":-8.17},{"lat":-64.26,"slope":-1.51},{"lat":-63.94,"slope":5.15},{"lat":-63.63,"slope":10.05},{"lat":-63.49,"slope":4.79},{"lat":-63.19,"slope":1.32},{"lat":-62.98,"slope":0.24},{"lat":-62.68,"slope":-0.48},{"lat":-62.54,"slope":-3.99},{"lat":-62.21,"slope":-6.78},{"lat":-61.91,"slope":-6.78},{"lat":-61.75,"slope":-3.27},{"lat":-61.46,"slope":-1.51},{"lat":-61.28,"slope":-0.48},{"lat":-60.96,"slope":0.24},{"lat":-60.65,"slope":0.96},{"lat":-60.49,"slope":3.39},{"lat":-60.35,"slope":10.41},
      {"lat":-60.05,"slope":6.18},{"lat":-59.70,"slope":0.24},{"lat":-59.38,"slope":-0.79},{"lat":-59.24,"slope":-0.79},{"lat":-58.89,"slope":-0.12},{"lat":-58.73,"slope":-0.48},{"lat":-58.47,"slope":-2.59},{"lat":-58.16,"slope":2.72},{"lat":-58.00,"slope":0.96},{"lat":-57.68,"slope":0.60},{"lat":-57.52,"slope":0.24},{"lat":-57.21,"slope":-0.12},{"lat":-56.91,"slope":1.32},{"lat":-56.75,"slope":0.60},{"lat":-56.44,"slope":0.24},{"lat":-56.08,"slope":0.96},{"lat":-55.79,"slope":1.32},{"lat":-55.49,"slope":-1.51},{"lat":-55.19,"slope":-8.17},{"lat":-55.02,"slope":-7.45},{"lat":-54.70,"slope":-2.91},{"lat":-54.39,"slope":-0.79},{"lat":-54.21,"slope":0.24},{"lat":-53.91,"slope":0.24},{"lat":-53.60,"slope":0.24},{"lat":-53.28,"slope":0.60},{"lat":-52.98,"slope":4.47},{"lat":-52.67,"slope":7.62},{"lat":-52.53,"slope":13.52},{"lat":-52.19,"slope":-2.91},{"lat":-51.88,"slope":-3.63},{"lat":-51.72,"slope":1.32},{"lat":-51.42,"slope":-0.48},{"lat":-51.25,"slope":-0.12},{"lat":-50.95,"slope":1.64},{"lat":-50.65,"slope":0.60},{"lat":-50.48,"slope":1.64},{"lat":-50.16,"slope":2.00},{"lat":-50.02,"slope":-0.48},{"lat":-49.71,"slope":1.64},{"lat":-49.35,"slope":0.60},{"lat":-49.19,"slope":-0.12},{"lat":-48.90,"slope":-2.91},{"lat":-48.76,"slope":-8.17},{"lat":-48.44,"slope":9.02},{"lat":-48.13,"slope":-8.89},{"lat":-47.97,"slope":11.45},{"lat":-47.67,"slope":1.64},{"lat":-47.52,"slope":0.60},{"lat":-47.20,"slope":-1.51},{"lat":-46.87,"slope":-0.12},{"lat":-46.71,"slope":-1.87},{"lat":-46.41,"slope":1.32},{"lat":-46.27,"slope":0.96},{"lat":-45.94,"slope":-2.19},{"lat":-45.62,"slope":0.24},{"lat":-45.48,"slope":2.36},{"lat":-45.17,"slope":-3.99},{"lat":-45.01,"slope":-0.79},{"lat":-44.69,"slope":0.24},{"lat":-44.38,"slope":0.60},{"lat":-44.22,"slope":0.60},{"lat":-43.92,"slope":3.08},{"lat":-43.73,"slope":0.24},{"lat":-43.41,"slope":0.96},{"lat":-43.27,"slope":-0.79},{"lat":-42.96,"slope":-0.12},{"lat":-42.66,"slope":1.32},{"lat":-42.48,"slope":4.11},{"lat":-42.21,"slope":3.39},{"lat":-42.01,"slope":1.32},{"lat":-41.71,"slope":-6.78},{"lat":-41.40,"slope":-5.02},{"lat":-41.24,"slope":-2.91},{"lat":-40.92,"slope":-0.12},{"lat":-40.59,"slope":0.24},{"lat":-40.15,"slope":3.08},{"lat":-39.98,"slope":8.30},{"lat":-39.68,"slope":0.96},{"lat":-39.54,"slope":-2.91},{"lat":-39.21,"slope":1.32},{"lat":-38.91,"slope":-0.12},{"lat":-38.77,"slope":0.60},{"lat":-38.44,"slope":1.64},{"lat":-38.28,"slope":3.39},{"lat":-37.96,"slope":3.08},{"lat":-37.63,"slope":-6.42},{"lat":-37.45,"slope":0.24},{"lat":-37.15,"slope":8.66},{"lat":-37.00,"slope":2.36},{"lat":-36.74,"slope":0.24},{"lat":-36.38,"slope":-0.12},{"lat":-36.21,"slope":-3.27},{"lat":-35.93,"slope":-7.14},{"lat":-35.77,"slope":-1.15},{"lat":-35.44,"slope":1.32},{"lat":-35.12,"slope":1.32},{"lat":-34.96,"slope":-2.91},{"lat":-34.67,"slope":7.98},{"lat":-34.51,"slope":8.34},{"lat":-34.21,"slope":-1.15},{"lat":-33.88,"slope":-6.42},{"lat":-33.70,"slope":0.24},{"lat":-33.40,"slope":-1.87},{"lat":-33.25,"slope":2.00},{"lat":-32.93,"slope":2.36},{"lat":-32.63,"slope":0.60},{"lat":-32.46,"slope":-4.66},{"lat":-32.16,"slope":1.64},{"lat":-32.00,"slope":-2.19},{"lat":-31.69,"slope":-0.79},{"lat":-31.37,"slope":4.11},{"lat":-31.23,"slope":-0.79},{"lat":-30.90,"slope":3.08},{"lat":-30.74,"slope":2.36},{"lat":-30.52,"slope":-1.51},
      {"lat":-30.10,"slope":5.15},{"lat":-29.96,"slope":4.11},{"lat":-29.65,"slope":-14.11},{"lat":-29.49,"slope":-9.93},{"lat":-29.14,"slope":-0.16},{"lat":-28.84,"slope":0.29},{"lat":-28.54,"slope":0.29},{"lat":-28.37,"slope":0.29},{"lat":-28.23,"slope":1.28},{"lat":-27.93,"slope":12.44},{"lat":-27.63,"slope":12.80},{"lat":-27.46,"slope":-1.15},{"lat":-27.16,"slope":4.79},{"lat":-26.96,"slope":-2.19},{"lat":-26.71,"slope":-0.48},{"lat":-26.51,"slope":-1.15},{"lat":-26.21,"slope":-1.51},{"lat":-25.90,"slope":-5.74},{"lat":-25.76,"slope":1.64},{"lat":-25.40,"slope":1.64},{"lat":-25.23,"slope":3.75},{"lat":-24.99,"slope":4.11},{"lat":-24.62,"slope":1.64},{"lat":-24.48,"slope":-5.74},{"lat":-24.18,"slope":-11.64},{"lat":-24.02,"slope":-6.01},{"lat":-23.71,"slope":-1.15},{"lat":-23.41,"slope":0.29},{"lat":-23.17,"slope":0.29},{"lat":-22.96,"slope":0.29},{"lat":-22.76,"slope":2.36},{"lat":-22.46,"slope":3.08},{"lat":-22.15,"slope":7.58},{"lat":-21.99,"slope":1.64},{"lat":-21.69,"slope":12.44},{"lat":-21.50,"slope":-0.84},{"lat":-21.20,"slope":-2.55},{"lat":-20.90,"slope":11.45},{"lat":-20.73,"slope":4.11},{"lat":-20.43,"slope":-8.89},{"lat":-20.27,"slope":6.90},{"lat":-19.96,"slope":2.00},{"lat":-19.66,"slope":7.94},{"lat":-19.48,"slope":5.15},{"lat":-19.15,"slope":17.75},{"lat":-19.01,"slope":15.68},{"lat":-18.75,"slope":-10.96},{"lat":-18.38,"slope":-13.75},{"lat":-18.24,"slope":-4.30},{"lat":-17.90,"slope":-12.00},{"lat":-17.75,"slope":-5.38},{"lat":-17.49,"slope":0.29},{"lat":-17.09,"slope":2.72},{"lat":-16.94,"slope":2.72},{"lat":-16.66,"slope":0.29},{"lat":-16.52,"slope":2.36},{"lat":-16.17,"slope":7.58},{"lat":-15.87,"slope":5.15},{"lat":-15.73,"slope":-7.50},{"lat":-15.40,"slope":-3.99},{"lat":-15.26,"slope":-7.50},{"lat":-14.96,"slope":-3.63},{"lat":-14.65,"slope":-0.12},{"lat":-14.45,"slope":1.64},{"lat":-14.15,"slope":9.33},{"lat":-13.98,"slope":13.56},{"lat":-13.70,"slope":13.56},{"lat":-13.38,"slope":12.12},{"lat":-13.23,"slope":0.60},{"lat":-12.89,"slope":3.08},{"lat":-12.73,"slope":1.32},{"lat":-12.42,"slope":-7.50},{"lat":-12.12,"slope":-10.24},{"lat":-11.98,"slope":-6.06},{"lat":-11.65,"slope":0.60},{"lat":-11.49,"slope":4.47},{"lat":-11.17,"slope":3.08},{"lat":-10.86,"slope":-0.48},{"lat":-10.70,"slope":-1.87},{"lat":-10.40,"slope":4.47},{"lat":-10.23,"slope":4.11},{"lat":-9.93,"slope":-1.51},{"lat":-9.63,"slope":-4.30},{"lat":-9.46,"slope":-1.87},{"lat":-9.14,"slope":2.00},{"lat":-8.98,"slope":0.60},{"lat":-8.67,"slope":2.72},{"lat":-8.51,"slope":-9.93},{"lat":-8.21,"slope":-5.74},{"lat":-7.90,"slope":13.87},{"lat":-7.74,"slope":-6.42},{"lat":-7.42,"slope":3.08},{"lat":-7.30,"slope":2.36},{"lat":-6.95,"slope":-1.51},{"lat":-6.65,"slope":2.00},{"lat":-6.48,"slope":-5.02},{"lat":-6.18,"slope":0.92},{"lat":-6.02,"slope":-0.12},{"lat":-5.69,"slope":-1.15},{"lat":-5.41,"slope":0.60},{"lat":-5.23,"slope":3.08},{"lat":-4.92,"slope":2.00},{"lat":-4.76,"slope":-2.55},{"lat":-4.46,"slope":-2.19},{"lat":-4.15,"slope":-3.58},{"lat":-3.97,"slope":0.60},{"lat":-3.67,"slope":-0.79},{"lat":-3.51,"slope":2.36},{"lat":-3.20,"slope":2.36},{"lat":-2.90,"slope":4.11},{"lat":-2.74,"slope":4.11},{"lat":-2.43,"slope":-19.97},{"lat":-2.25,"slope":-2.59},{"lat":-1.96,"slope":-7.81},{"lat":-1.64,"slope":0.24},{"lat":-1.48,"slope":6.18},{"lat":-1.17,"slope":12.89},{"lat":-0.97,"slope":12.89},{"lat":-0.71,"slope":-2.91},{"lat":-0.40,"slope":2.72},{"lat":-0.26,"slope":2.36}
    ],
    "arrow_solid": [
      {"seg":"h1","o":1,"lat":-37.47,"elev":-2.86},{"seg":"h1","o":2,"lat":-38.11,"elev":-3.72},{"seg":"h1","o":3,"lat":-36.70,"elev":-3.47},
      {"seg":"shaft","o":1,"lat":-41.21,"elev":-5.04},{"seg":"shaft","o":2,"lat":-35.44,"elev":-5.04},
      {"seg":"hl","o":1,"lat":-39.90,"elev":-4.58},{"seg":"hl","o":2,"lat":-41.21,"elev":-5.04},{"seg":"hl","o":3,"lat":-39.90,"elev":-5.49},
      {"seg":"hr","o":1,"lat":-36.76,"elev":-4.58},{"seg":"hr","o":2,"lat":-35.44,"elev":-5.04},{"seg":"hr","o":3,"lat":-36.76,"elev":-5.49}
    ],
    "arrow_dash": [
      {"o":1,"lat":-15.81,"elev":11.31},{"o":2,"lat":-38.11,"elev":-3.72}
    ]
  },
  "vconcat": [
    {
      "width": 1485,
      "height": 371,
      "resolve": {"scale": {"y": "independent"}, "axis": {"x": "independent", "y": "independent"}},
      "layer": [
        {
          "data": {"name": "top_elev"},
          "mark": {"type": "line", "color": "#F8D444", "strokeWidth": 5.5},
          "encoding": {
            "x": {"field": "lat", "type": "quantitative", "scale": {"domain": [-90, 0], "nice": false, "zero": false},
              "axis": {"orient": "bottom", "values": [-90,-85.5,-81,-76.5,-72,-67.5,-63,-58.5,-54,-49.5,-45,-40.5,-36,-31.5,-27,-22.5,-18,-13.5,-9,-4.5,0],
                "labelExpr": "datum.value % 18 === 0 ? '' + datum.value : ''",
                "tickSize": {"condition": {"test": "datum.value % 18 === 0", "value": -16}, "value": -9},
                "labelPadding": 28.5, "labelColor": "#F2F2F2", "labelFontSize": 36, "title": null}},
            "y": {"field": "elev", "type": "quantitative", "scale": {"domain": [-8, 8], "nice": false, "zero": false},
              "axis": {"orient": "left", "values": [-8,-7,-6,-5,-4,-3,-2,-1,0,1,2,3,4,5,6,7,8],
                "labelExpr": "datum.value % 4 === 0 ? '' + datum.value : ''",
                "tickSize": {"condition": {"test": "datum.value % 4 === 0", "value": -16}, "value": -9},
                "labelPadding": 35, "labelColor": "#EDCB45", "labelFontSize": 36,
                "title": "Elevation, km", "titleColor": "#EDCB45", "titleFontSize": 40, "titlePadding": 25}}
          }
        },
        {
          "data": {"name": "top_slope"},
          "mark": {"type": "point", "shape": "square", "filled": true, "size": 25, "color": "#FF0000", "opacity": 1},
          "encoding": {
            "x": {"field": "lat", "type": "quantitative", "scale": {"domain": [-90, 0], "nice": false, "zero": false},
              "axis": {"orient": "top", "values": [-90,-85.5,-81,-76.5,-72,-67.5,-63,-58.5,-54,-49.5,-45,-40.5,-36,-31.5,-27,-22.5,-18,-13.5,-9,-4.5,0],
                "labels": false,
                "tickSize": {"condition": {"test": "datum.value % 18 === 0", "value": -16}, "value": -9},
                "title": null}},
            "y": {"field": "slope", "type": "quantitative", "scale": {"domain": [-30, 20], "nice": false, "zero": false},
              "axis": {"orient": "right", "values": [-30,-28,-26,-24,-22,-20,-18,-16,-14,-12,-10,-8,-6,-4,-2,0,2,4,6,8,10,12,14,16,18,20],
                "labelExpr": "datum.value % 10 === 0 ? '' + datum.value : ''",
                "tickSize": {"condition": {"test": "datum.value % 10 === 0", "value": -16}, "value": -9},
                "labelPadding": 29, "labelColor": "#E60000", "labelFontSize": 37,
                "title": "Slope, deg", "titleColor": "#E60000", "titleFontSize": 40, "titlePadding": 30, "titleY": 202}}
          }
        },
        {
          "data": {"values": [{"lat": -97.48, "lat2": 8.31, "elev": 13.93}]},
          "mark": {"type": "rule", "color": "#F2D04A", "strokeWidth": 4},
          "encoding": {
            "x": {"field": "lat", "type": "quantitative", "scale": {"domain": [-90, 0], "nice": false, "zero": false}, "axis": null},
            "x2": {"field": "lat2"},
            "y": {"field": "elev", "type": "quantitative", "scale": {"domain": [-8, 8], "nice": false, "zero": false}, "axis": null}
          }
        },
        {
          "data": {"values": [{"lat": -42.21, "elev": 9.44, "label": "Topography and Slope"}]},
          "mark": {"type": "text", "font": "Liberation Sans", "fontSize": 75, "color": "#FDDC52", "align": "center", "baseline": "alphabetic"},
          "encoding": {
            "x": {"field": "lat", "type": "quantitative", "scale": {"domain": [-90, 0], "nice": false, "zero": false}, "axis": null},
            "y": {"field": "elev", "type": "quantitative", "scale": {"domain": [-8, 8], "nice": false, "zero": false}, "axis": null},
            "text": {"field": "label"}
          }
        },
        {
          "data": {"values": [{"lat": -13.96, "elev": 12.02, "label": "Leibnitz"}]},
          "mark": {"type": "text", "font": "Liberation Sans", "fontSize": 62, "color": "#FFFFFF", "align": "center", "baseline": "alphabetic"},
          "encoding": {
            "x": {"field": "lat", "type": "quantitative", "scale": {"domain": [-90, 0], "nice": false, "zero": false}, "axis": null},
            "y": {"field": "elev", "type": "quantitative", "scale": {"domain": [-8, 8], "nice": false, "zero": false}, "axis": null},
            "text": {"field": "label"}
          }
        },
        {
          "data": {"values": [{"lat": -88.44, "elev": 5.73, "label": "Lon=180"}]},
          "mark": {"type": "text", "font": "Liberation Sans", "fontSize": 41, "color": "#E6E6E6", "align": "left", "baseline": "alphabetic"},
          "encoding": {
            "x": {"field": "lat", "type": "quantitative", "scale": {"domain": [-90, 0], "nice": false, "zero": false}, "axis": null},
            "y": {"field": "elev", "type": "quantitative", "scale": {"domain": [-8, 8], "nice": false, "zero": false}, "axis": null},
            "text": {"field": "label"}
          }
        },
        {
          "data": {"name": "arrow_dash"},
          "mark": {"type": "line", "color": "#FFFFFF", "strokeWidth": 4, "strokeDash": [22, 16]},
          "encoding": {
            "x": {"field": "lat", "type": "quantitative", "scale": {"domain": [-90, 0], "nice": false, "zero": false}, "axis": null},
            "y": {"field": "elev", "type": "quantitative", "scale": {"domain": [-8, 8], "nice": false, "zero": false}, "axis": null},
            "order": {"field": "o"}
          }
        },
        {
          "data": {"name": "arrow_solid"},
          "mark": {"type": "line", "color": "#FFFFFF", "strokeWidth": 4.5, "strokeCap": "round", "strokeJoin": "round"},
          "encoding": {
            "x": {"field": "lat", "type": "quantitative", "scale": {"domain": [-90, 0], "nice": false, "zero": false}, "axis": null},
            "y": {"field": "elev", "type": "quantitative", "scale": {"domain": [-8, 8], "nice": false, "zero": false}, "axis": null},
            "detail": {"field": "seg"},
            "order": {"field": "o"}
          }
        }
      ]
    },
    {
      "width": 1482,
      "height": 370,
      "resolve": {"scale": {"y": "independent"}, "axis": {"x": "independent", "y": "independent"}},
      "layer": [
        {
          "data": {"name": "bot_elev"},
          "mark": {"type": "line", "color": "#F8D444", "strokeWidth": 5.5},
          "encoding": {
            "x": {"field": "lat", "type": "quantitative", "scale": {"domain": [-90, 0], "nice": false, "zero": false},
              "axis": {"orient": "bottom", "values": [-90,-85.5,-81,-76.5,-72,-67.5,-63,-58.5,-54,-49.5,-45,-40.5,-36,-31.5,-27,-22.5,-18,-13.5,-9,-4.5,0],
                "labelExpr": "datum.value % 18 === 0 ? '' + datum.value : ''",
                "tickSize": {"condition": {"test": "datum.value % 18 === 0", "value": -16}, "value": -9},
                "labelPadding": 30, "labelColor": "#F2F2F2", "labelFontSize": 36,
                "title": "Latitude, deg", "titleColor": "#F2F2F2", "titleFontSize": 38, "titlePadding": 4}},
            "y": {"field": "elev", "type": "quantitative", "scale": {"domain": [-8, 8], "nice": false, "zero": false},
              "axis": {"orient": "left", "values": [-8,-7,-6,-5,-4,-3,-2,-1,0,1,2,3,4,5,6,7,8],
                "labelExpr": "datum.value % 4 === 0 ? '' + datum.value : ''",
                "tickSize": {"condition": {"test": "datum.value % 4 === 0", "value": -16}, "value": -9},
                "labelPadding": 35, "labelColor": "#EDCB45", "labelFontSize": 36,
                "title": "Elevation, km", "titleColor": "#EDCB45", "titleFontSize": 40, "titlePadding": 25}}
          }
        },
        {
          "data": {"name": "bot_slope"},
          "mark": {"type": "point", "shape": "square", "filled": true, "size": 25, "color": "#FF0000", "opacity": 1},
          "encoding": {
            "x": {"field": "lat", "type": "quantitative", "scale": {"domain": [-90, 0], "nice": false, "zero": false},
              "axis": {"orient": "top", "values": [-90,-85.5,-81,-76.5,-72,-67.5,-63,-58.5,-54,-49.5,-45,-40.5,-36,-31.5,-27,-22.5,-18,-13.5,-9,-4.5,0],
                "labels": false,
                "tickSize": {"condition": {"test": "datum.value % 18 === 0", "value": -16}, "value": -9},
                "title": null}},
            "y": {"field": "slope", "type": "quantitative", "scale": {"domain": [-30, 20], "nice": false, "zero": false},
              "axis": {"orient": "right", "values": [-30,-28,-26,-24,-22,-20,-18,-16,-14,-12,-10,-8,-6,-4,-2,0,2,4,6,8,10,12,14,16,18,20],
                "labelExpr": "datum.value % 10 === 0 ? '' + datum.value : ''",
                "tickSize": {"condition": {"test": "datum.value % 10 === 0", "value": -16}, "value": -9},
                "labelPadding": 29, "labelColor": "#E60000", "labelFontSize": 37,
                "title": "Slope, deg", "titleColor": "#E60000", "titleFontSize": 40, "titlePadding": 30, "titleY": 200}}
          }
        },
        {
          "data": {"values": [{"lat": -88.44, "elev": 5.75, "label": "Lon=190"}]},
          "mark": {"type": "text", "font": "Liberation Sans", "fontSize": 41, "color": "#E6E6E6", "align": "left", "baseline": "alphabetic"},
          "encoding": {
            "x": {"field": "lat", "type": "quantitative", "scale": {"domain": [-90, 0], "nice": false, "zero": false}, "axis": null},
            "y": {"field": "elev", "type": "quantitative", "scale": {"domain": [-8, 8], "nice": false, "zero": false}, "axis": null},
            "text": {"field": "label"}
          }
        }
      ]
    }
  ],
  "config": {
    "view": {"stroke": null},
    "font": "Liberation Sans",
    "axis": {
      "grid": false,
      "domainColor": "#E2E2E2",
      "domainWidth": 2,
      "tickColor": "#E2E2E2",
      "tickWidth": 2,
      "labelFont": "Liberation Sans",
      "titleFont": "Liberation Sans",
      "titleFontWeight": "normal",
      "labelFlush": false,
      "labelOverlap": false,
      "labelBound": false
    }
  }
}
